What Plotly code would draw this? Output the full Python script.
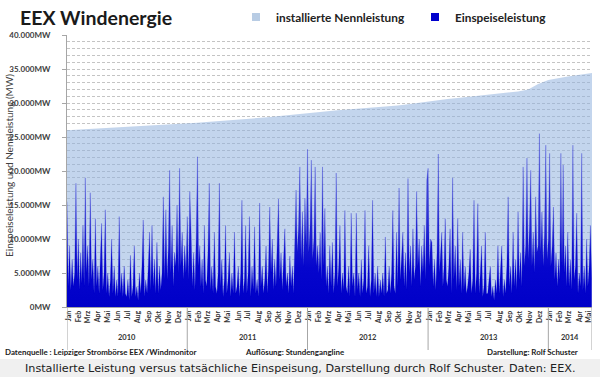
import pandas as pd
import plotly.graph_objects as go

# ---------------- data ----------------
month_labels = ["Jan", "Feb", "Mrz", "Apr", "Mai", "Jun", "Jul", "Aug", "Sep", "Okt", "Nov", "Dez"]
year_labels = ["2010", "2011", "2012", "2013", "2014"]
start_date = "2010-01-01"
end_date = "2014-05-13 12:00"

# installed capacity (MW) at the start of each month
installed_2010 = [26000, 26080, 26160, 26240, 26320, 26400, 26480, 26560, 26640, 26720, 26800, 26900]
installed_2011 = [27000, 27100, 27200, 27300, 27400, 27500, 27600, 27750, 27900, 28050, 28200, 28400]
installed_2012 = [28600, 28750, 28850, 28950, 29050, 29150, 29250, 29350, 29500, 29650, 29800, 30000]
installed_2013 = [30300, 30450, 30600, 30750, 30900, 31050, 31200, 31350, 31500, 31700, 32000, 32800]
installed_2014 = [33400, 33700, 33900, 34100, 34300]
installed_end = 34400

# feed-in (MW), eight readings per month
wind_2010 = [
    15500, 3000, 9000, 2500, 7000, 3000, 5000, 18200,
    4000, 10000, 2500, 8000, 3500, 12000, 3000, 19000,
    5000, 9000, 3000, 16800, 4000, 7000, 2000, 13000,
    3000, 6000, 2000, 8000, 12300, 2500, 5000, 14300,
    2000, 5000, 1500, 4000, 10000, 2000, 6000, 1500,
    4000, 1500, 13300, 2000, 5000, 1500, 6000, 2000,
    1500, 4000, 1000, 7600, 1500, 3000, 9000, 1500,
    3000, 1000, 5000, 2000, 6000, 12800, 1500, 4000,
    2000, 6000, 11000, 2500, 12000, 3000, 7000, 2000,
    9500, 2000, 6000, 2500, 5000, 16200, 4000, 14300,
    4000, 9000, 20100, 5000, 12000, 3000, 8000, 6000,
    15000, 5000, 20400, 6000, 11000, 4000, 9000, 5000,
]
wind_2011 = [
    13300, 4000, 17000, 11000, 3000, 8000, 2500, 10000,
    22100, 6000, 9000, 3000, 7000, 2000, 12000, 4000,
    3000, 8000, 18200, 2500, 6000, 2000, 11000, 3000,
    2000, 5000, 18200, 3000, 7000, 1500, 4000, 12000,
    2000, 4000, 8000, 1500, 5000, 2000, 11000, 2000,
    3000, 6000, 1500, 5000, 15700, 2000, 4000, 12000,
    2000, 5000, 13300, 1500, 6000, 2500, 11800, 2000,
    4000, 1500, 15300, 3000, 6000, 2000, 4000, 9000,
    2000, 6000, 14700, 5000, 10000, 2500, 7000, 3000,
    9000, 15900, 4000, 8000, 2500, 6000, 11500, 3000,
    5000, 2000, 7500, 3000, 6000, 2000, 9000, 17200,
    8000, 12000, 20600, 7000, 14000, 6000, 16000, 9000,
]
wind_2012 = [
    23200, 8000, 12000, 21600, 7000, 10000, 20600, 6000,
    9000, 5000, 11000, 4000, 20600, 6000, 14500, 3000,
    6000, 2000, 9000, 3000, 9500, 2000, 5000, 19700,
    3000, 6000, 12000, 2000, 5000, 2500, 14200, 3000,
    2000, 6000, 1500, 13800, 3000, 5000, 1500, 13800,
    2500, 5000, 1500, 7000, 2000, 4000, 14200, 2000,
    3000, 9000, 1500, 4000, 15700, 2000, 5000, 1500,
    6000, 1500, 4000, 2000, 5000, 1500, 10300, 2000,
    2500, 6000, 2000, 5000, 14200, 3000, 2000, 11000,
    3000, 17500, 4000, 7000, 11000, 3000, 8000, 2500,
    18900, 5000, 9000, 3000, 11500, 4000, 6000, 17000,
    6000, 10000, 3000, 9000, 5000, 12000, 4000, 18700,
]
wind_2013 = [
    20400, 6000, 10000, 9500, 3000, 7000, 2500, 8000,
    22500, 5000, 8000, 11000, 3000, 6000, 13000, 4000,
    3000, 6000, 11500, 2000, 19000, 4000, 9000, 2500,
    13000, 3000, 7000, 2000, 11000, 2500, 6000, 2000,
    3000, 5000, 8500, 2000, 4000, 15700, 2000, 5000,
    15200, 2000, 5000, 9000, 1500, 3000, 11000, 2000,
    2000, 4000, 6000, 1500, 3000, 1000, 4000, 2000,
    9000, 2000, 5000, 9000, 1500, 4000, 2000, 6000,
    16200, 3000, 6000, 2000, 11000, 3000, 7000, 2500,
    14000, 4000, 8000, 3000, 20600, 6000, 9000, 21900,
    7000, 12000, 20100, 6000, 11000, 5000, 16200, 8000,
    9000, 25500, 8000, 14000, 6000, 11000, 23800, 7000,
]
wind_2014 = [
    10000, 22600, 6000, 9000, 14700, 4000, 8000, 3000,
    7000, 4000, 22600, 6000, 20900, 5000, 9000, 3000,
    11000, 3000, 7000, 2500, 23800, 4000, 6000, 13800,
    2000, 5000, 3000, 22600, 2500, 6000, 2000, 10000,
    3000, 6000, 12000, 4000,
]

# ---------------- build series ----------------
installed_vals = installed_2010 + installed_2011 + installed_2012 + installed_2013 + installed_2014
month_starts = pd.date_range(start_date, periods=len(installed_vals), freq="MS")
inst_x = list(month_starts) + [pd.Timestamp(end_date)]
inst_y = installed_vals + [installed_end]

wind_vals = wind_2010 + wind_2011 + wind_2012 + wind_2013 + wind_2014
PER_MONTH = 8
wind_x = []
for k in range(len(wind_vals)):
    m, i = divmod(k, PER_MONTH)
    ms = pd.Timestamp(start_date) + pd.DateOffset(months=m)
    days = ms.days_in_month
    wind_x.append(ms + pd.Timedelta(hours=24 * days * i / PER_MONTH))

# ---------------- layout helpers ----------------
L, R, T, B = 67, 592, 35, 307
W, H = R - L, B - T
def px(x):
    return (x - L) / W
def py(y):
    return (B - y) / H

LIGHT = "rgba(146,178,222,0.55)"
DARK = "rgb(0,0,205)"
FONT = "Lato, Carlito, sans-serif"

fig = go.Figure()
fig.add_trace(go.Scatter(x=inst_x, y=inst_y, mode="lines", line=dict(width=0, color=LIGHT),
                         fill="tozeroy", fillcolor=LIGHT, showlegend=False, hoverinfo="skip"))
fig.add_trace(go.Scatter(x=wind_x, y=wind_vals, mode="lines", line=dict(width=0.5, color="rgba(0,0,205,0.45)"),
                         fill="tozeroy", fillcolor=DARK,
                         fillgradient=dict(type="vertical", start=0, stop=26000,
                                           colorscale=[[0, "rgb(0,0,200)"], [0.22, "rgb(5,5,205)"],
                                                       [1, "rgb(105,115,222)"]]),
                         showlegend=False, hoverinfo="skip"))
# legend entries
fig.add_trace(go.Scatter(x=[None], y=[None], mode="markers", name="installierte Nennleistung",
                         marker=dict(symbol="square", size=8, color="#B8CCE4")))
fig.add_trace(go.Scatter(x=[None], y=[None], mode="markers", name="Einspeiseleistung",
                         marker=dict(symbol="square", size=8, color=DARK)))

tick_vals = [d + pd.Timedelta(days=4) for d in month_starts]
tick_text = [month_labels[d.month - 1] for d in month_starts]

fig.update_layout(
    width=600, height=377,
    margin=dict(l=L, r=600 - R, t=T, b=377 - B, autoexpand=False),
    paper_bgcolor="white", plot_bgcolor="white",
    separators=",.",
    font=dict(family=FONT, color="#262626"),
    title=dict(text="EEX Windenergie", xref="container", x=20 / 600, xanchor="left",
               yref="container", y=1 - 18 / 377, yanchor="middle",
               font=dict(family=FONT, size=19.5, weight=700, color="#1a1a1a")),
    legend=dict(orientation="h", x=px(236), xanchor="left", y=py(17), yanchor="middle",
                entrywidth=134, entrywidthmode="pixels", itemwidth=30,
                font=dict(family=FONT, size=11.8, weight=700, color="#222222"),
                bgcolor="rgba(0,0,0,0)"),
    xaxis=dict(type="date", range=[pd.Timestamp(start_date), pd.Timestamp(end_date)],
               showgrid=False, zeroline=False, showline=True, linecolor="#a6a6a6",
               tickmode="array", tickvals=tick_vals, ticktext=tick_text, tickangle=-90,
               ticks="", tickfont=dict(family=FONT, size=7, weight=700, color="#333333")),
    yaxis=dict(range=[0, 40000], tickmode="linear", tick0=0, dtick=5000,
               tickformat=",d", ticksuffix="MW",
               showgrid=True, gridcolor="#c4c4c4", griddash="3px,2px", gridwidth=1,
               minor=dict(tick0=0, dtick=1000, showgrid=True, gridcolor="#c4c4c4",
                          griddash="3px,2px", gridwidth=1, ticks=""),
               zeroline=False, showline=True, linecolor="#a6a6a6",
               ticks="outside", ticklen=4, tickcolor="#a6a6a6", ticklabelstandoff=10,
               tickfont=dict(family=FONT, size=8, weight=700, color="#404040")),
)

# year separators and labels
year_starts = [pd.Timestamp(f"{y}-01-01") for y in year_labels] + [pd.Timestamp(end_date)]
for ys in year_starts:
    fig.add_shape(type="line", xref="x", yref="paper", x0=ys, x1=ys, y0=0, y1=py(350),
                  line=dict(color="#a6a6a6", width=1))
for a, b, lab in zip(year_starts[:-1], year_starts[1:], year_labels):
    fig.add_annotation(x=a + (b - a) / 2, xref="x", y=py(337), yref="paper", text=lab,
                       xanchor="center", yanchor="middle", showarrow=False,
                       font=dict(family=FONT, size=7.5, weight=700, color="#333333"))

# y-axis title
fig.add_annotation(x=px(9), y=py(166), xref="paper", yref="paper", textangle=-90,
                   xanchor="center", yanchor="middle",
                   text="Einspeiseleistung und Nennleistung (MW)", showarrow=False,
                   font=dict(family=FONT, size=10, color="#404040"))

# footer
footer = [("Datenquelle : Leipziger Strombörse EEX /Windmonitor", 3),
          ("Auflösung: Stundengangline", 243),
          ("Darstellung: Rolf Schuster", 485)]
for txt, x0 in footer:
    fig.add_annotation(x=px(x0), y=py(352), xref="paper", yref="paper", text=txt,
                       xanchor="left", yanchor="middle", showarrow=False,
                       font=dict(family=FONT, size=7.9, weight=700, color="#222222"))

# caption band
fig.add_shape(type="rect", xref="paper", yref="paper", x0=px(0), x1=px(600), y0=py(359), y1=py(378),
              line=dict(width=0), fillcolor="#f0f0f0", layer="below")
fig.add_annotation(x=px(300), y=py(368), xref="paper", yref="paper",
                   xanchor="center", yanchor="middle",
                   text="Installierte Leistung versus tatsächliche Einspeisung, Darstellung durch Rolf Schuster. Daten: EEX.",
                   showarrow=False, font=dict(family="DejaVu Sans", size=11.2, color="#202122"))

fig.write_html("out.html", config={"displayModeBar": False},
               post_script="document.body.style.margin='0px';document.body.style.overflow='hidden';")
